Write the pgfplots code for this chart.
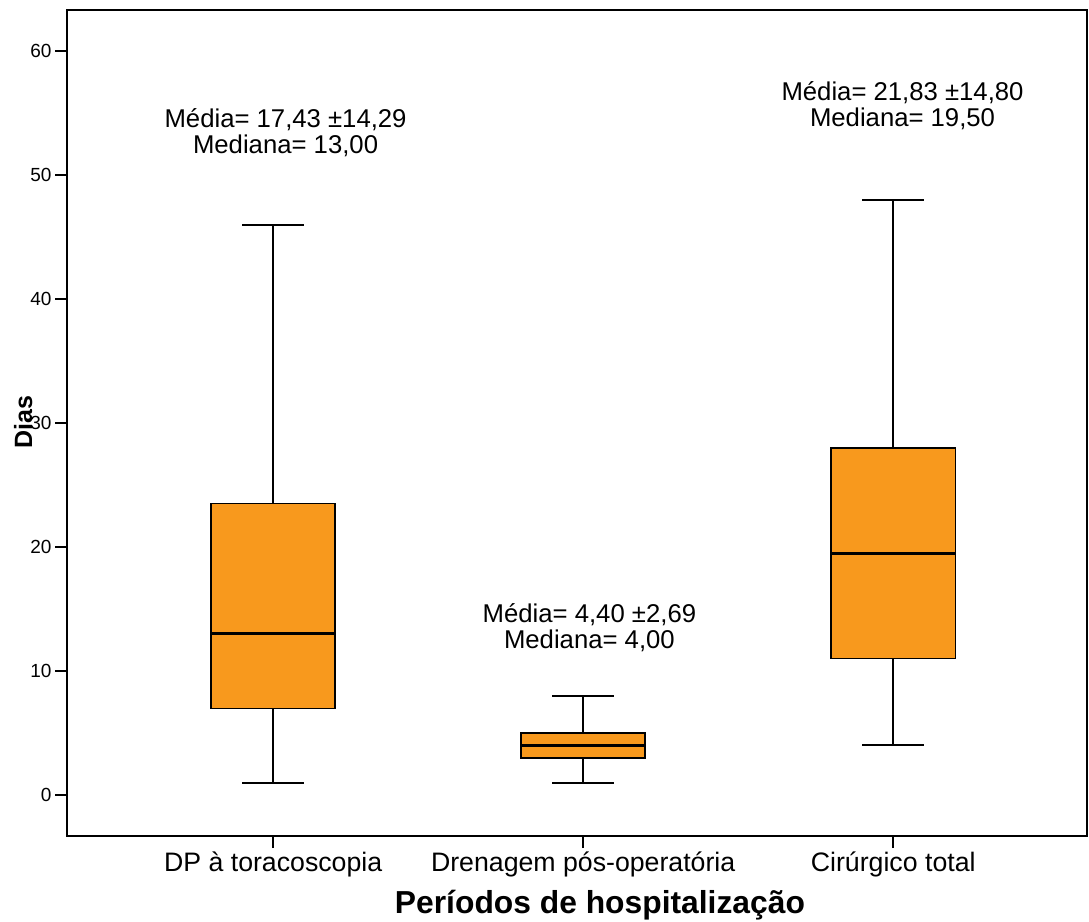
\documentclass[border=0pt]{standalone}
\usepackage{fontspec}
\setmainfont{Liberation Sans}
\usepackage{pgfplots}
\pgfplotsset{compat=1.18}
\usepgfplotslibrary{statistics}
\definecolor{boxorange}{RGB}{248,153,29}
\begin{document}
\begin{tikzpicture}
\begin{axis}[
  scale only axis, width=1020bp, height=826bp,
  xmin=-0.665, xmax=2.625, ymin=-3.3, ymax=63.3,
  xtick={0,1,2},
  xticklabels={DP à toracoscopia, Drenagem pós-operatória, Cirúrgico total},
  ytick={0,10,20,30,40,50,60},
  xtick pos=bottom, ytick pos=left, tick align=outside,
  major tick length=12bp,
  every tick/.style={black, line width=1.6bp},
  axis line style={line width=1.6bp},
  /pgf/number format/assume math mode=true,
  yticklabel style={font=\fontsize{19bp}{22bp}\selectfont},
  xticklabel style={font=\fontsize{26.7bp}{30bp}\selectfont},
  xlabel={Períodos de hospitalização},
  ylabel={Dias},
  xlabel style={font=\bfseries\fontsize{31.8bp}{36bp}\selectfont, at={(axis description cs:0.5225,-0.0932)}, anchor=base},
  ylabel style={font=\bfseries\fontsize{25bp}{28bp}\selectfont, at={(axis description cs:-0.0343,0.501)}, anchor=base},
  boxplot/draw direction=y,
  boxplot/box extend=0.4,
  boxplot/whisker extend=0.2,
  boxplot/every median/.style={line width=3.2bp},
  boxplot/every whisker/.style={line width=2bp},
  boxplot/every box/.style={line width=1.5bp, fill=boxorange},
  clip=false,
]
\addplot+[black, mark=none, boxplot prepared={lower whisker=1, lower quartile=7, median=13, upper quartile=23.5, upper whisker=46, draw position=0}] coordinates {};
\addplot+[black, mark=none, boxplot prepared={lower whisker=1, lower quartile=3, median=4, upper quartile=5, upper whisker=8, draw position=1}] coordinates {};
\addplot+[black, mark=none, boxplot prepared={lower whisker=4, lower quartile=11, median=19.5, upper quartile=28, upper whisker=48, draw position=2}] coordinates {};
\node[align=center, font=\fontsize{25.7bp}{26bp}\selectfont] at (axis cs:0.04,53.39) {Média= 17,43 ±14,29\\Mediana= 13,00};
\node[align=center, font=\fontsize{25.7bp}{26bp}\selectfont] at (axis cs:1.02,13.47) {Média= 4,40 ±2,69\\Mediana= 4,00};
\node[align=center, font=\fontsize{25.7bp}{26bp}\selectfont] at (axis cs:2.03,55.56) {Média= 21,83 ±14,80\\Mediana= 19,50};
\end{axis}
\pgfresetboundingbox
\path ([shift={(-67bp,-85bp)}]current axis.south west) rectangle ([shift={(2bp,10bp)}]current axis.north east);
\end{tikzpicture}
\end{document}
